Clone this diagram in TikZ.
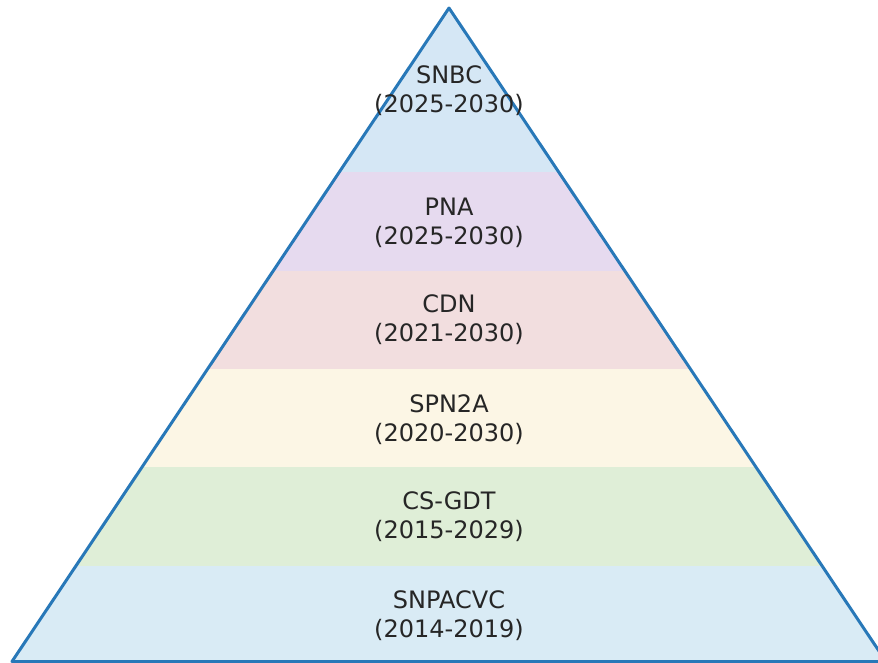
\documentclass[tikz,border=0pt]{standalone}
\usepackage{fontspec}
\setmainfont{DejaVu Sans}
\definecolor{edgeblue}{HTML}{2878B8}
\definecolor{bandA}{HTML}{D5E7F5}
\definecolor{bandB}{HTML}{E6DAEF}
\definecolor{bandC}{HTML}{F2DEDF}
\definecolor{bandD}{HTML}{FCF6E5}
\definecolor{bandE}{HTML}{DFEED7}
\definecolor{bandF}{HTML}{D9EBF5}
\tikzset{
  lbl/.style={align=center, font=\fontsize{24}{29}\selectfont, text=black!85, inner sep=0pt},
  edge/.style={draw=edgeblue, line width=3pt, line join=round}
}
\begin{document}
\begin{tikzpicture}[x=1pt,y=-1pt]
\useasboundingbox (0,0) rectangle (878,662);
\clip (0,0) rectangle (878,662);
\coordinate (apex) at (449,8);
\coordinate (bl) at (12,661.5);
\coordinate (br) at (886,661.5);
\begin{scope}
  \clip (apex) -- (bl) -- (br) -- cycle;
  \fill[bandA] (0,0) rectangle (900,172);
  \fill[bandB] (0,172) rectangle (900,271);
  \fill[bandC] (0,271) rectangle (900,369);
  \fill[bandD] (0,369) rectangle (900,467);
  \fill[bandE] (0,467) rectangle (900,566);
  \fill[bandF] (0,566) rectangle (900,662);
\end{scope}
\draw[edge] (apex) -- (bl) -- (br) -- cycle;
\node[lbl] (snbc) at (449,91) {SNBC\\(2025-2030)};
\node[lbl] (pna) at (449,223) {PNA\\(2025-2030)};
\node[lbl] (cdn) at (449,320) {CDN\\(2021-2030)};
\node[lbl] (spn) at (449,420) {SPN2A\\(2020-2030)};
\node[lbl] (csgdt) at (449,517) {CS-GDT\\(2015-2029)};
\node[lbl] (snp) at (449,616) {SNPACVC\\(2014-2019)};
\end{tikzpicture}
\end{document}
